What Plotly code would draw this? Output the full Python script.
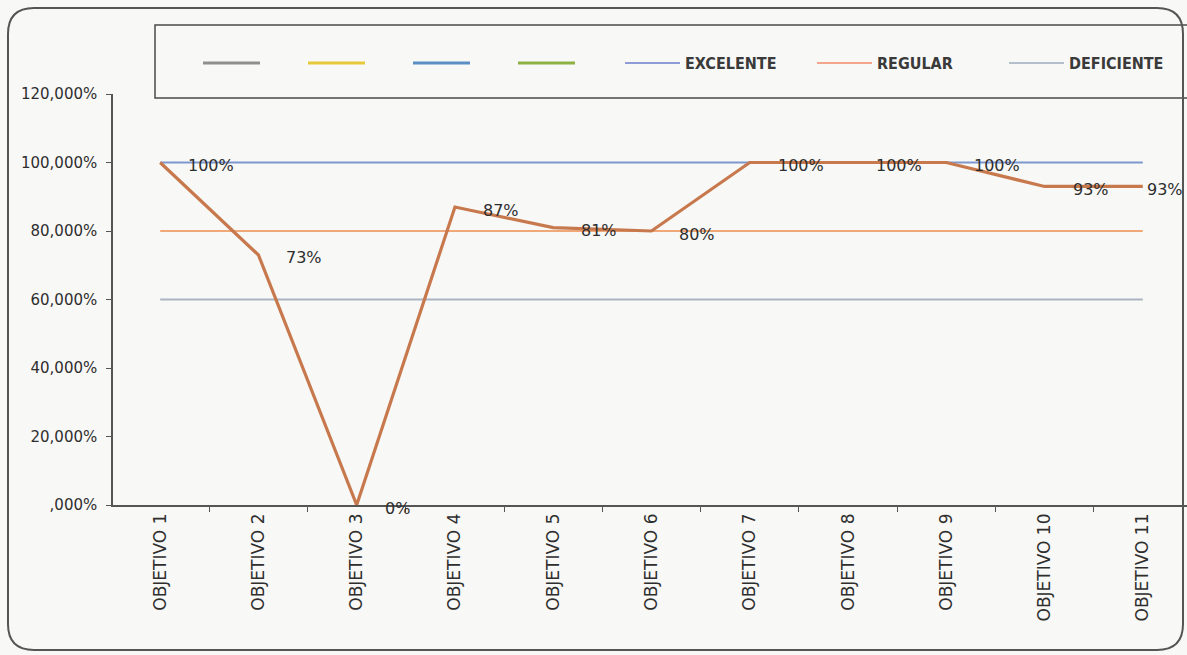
import plotly.graph_objects as go

# ---- data ----
objetivos = ["OBJETIVO 1", "OBJETIVO 2", "OBJETIVO 3", "OBJETIVO 4", "OBJETIVO 5",
             "OBJETIVO 6", "OBJETIVO 7", "OBJETIVO 8", "OBJETIVO 9", "OBJETIVO 10",
             "OBJETIVO 11"]
cumplimiento = [1.00, 0.73, 0.00, 0.87, 0.81, 0.80, 1.00, 1.00, 1.00, 0.93, 0.93]
nivel_excelente = 1.00
nivel_regular = 0.80
nivel_deficiente = 0.60
y_ticks = [0.0, 0.2, 0.4, 0.6, 0.8, 1.0, 1.2]
y_ticktext = [",000%", "20,000%", "40,000%", "60,000%", "80,000%", "100,000%", "120,000%"]

# ---- page geometry ----
W, H = 1187, 655
ML, MR, MT, MB = 113, 0, 94, 150


def to_paper(px, py):
    """Convert page pixel coordinates to paper coordinates."""
    return (px - ML) / (W - ML - MR), (H - MB - py) / (H - MT - MB)


FONT = "DejaVu Sans"
TXT = "#2e2e2e"
LEG_FONT = "DejaVu Sans Condensed, Liberation Sans Narrow, Arial Narrow, Liberation Sans, sans-serif"

fig = go.Figure()

# threshold lines
umbrales = [
    ("EXCELENTE", nivel_excelente, "#7f97cf", "#8e9bd6"),
    ("REGULAR", nivel_regular, "#f0a878", "#f2a58a"),
    ("DEFICIENTE", nivel_deficiente, "#aab4c2", "#b4bfcc"),
]
for nombre, valor, color, _ in umbrales:
    fig.add_trace(go.Scatter(
        x=objetivos, y=[valor] * len(objetivos), mode="lines",
        line=dict(color=color, width=2), showlegend=False, hoverinfo="skip"))

# achievement line
fig.add_trace(go.Scatter(
    x=objetivos, y=cumplimiento, mode="lines",
    line=dict(color="#c7794d", width=3.2), showlegend=False))

# legend: unnamed series
for color in ["#8f8f8f", "#e6c93a", "#5b8ec4", "#8db243"]:
    fig.add_trace(go.Scatter(
        x=[None], y=[None], mode="lines", name=" ",
        line=dict(color=color, width=3), legend="legend"))

# legend: threshold levels
for nombre, valor, _, color_leg in umbrales:
    fig.add_trace(go.Scatter(
        x=[None], y=[None], mode="lines", name=nombre,
        line=dict(color=color_leg, width=2), legend="legend2"))

# value labels to the right of each point
annotations = []
for i, (cat, v) in enumerate(zip(objetivos, cumplimiento)):
    last = i == len(objetivos) - 1
    annotations.append(dict(
        x=cat, y=v, xref="x", yref="y", text=f"{round(v * 100)}%",
        showarrow=False, xanchor="left", yanchor="middle",
        xshift=2 if last else 26, yshift=-3,
        font=dict(family=FONT, size=16, color=TXT)))

# legend frame and outer rounded frame
lx0, ly0 = to_paper(155, 25)
lx1, ly1 = to_paper(1200, 98)
shapes = [dict(type="rect", xref="paper", yref="paper", x0=lx0, y0=ly1, x1=lx1, y1=ly0,
               line=dict(color="#4a4a4a", width=1.5), layer="below")]

L, T, R, B, r = 8, 8, 1183, 650, 26
pts = [("M", L + r, T), ("L", R - r, T), ("Q", R, T, R, T + r), ("L", R, B - r),
       ("Q", R, B, R - r, B), ("L", L + r, B), ("Q", L, B, L, B - r), ("L", L, T + r),
       ("Q", L, T, L + r, T)]
path = ""
for p in pts:
    cmd, coords = p[0], p[1:]
    seg = []
    for j in range(0, len(coords), 2):
        px, py = to_paper(coords[j], coords[j + 1])
        seg.append(f"{px:.5f},{py:.5f}")
    path += cmd + " ".join(seg) + " "
path += "Z"
shapes.append(dict(type="path", xref="paper", yref="paper", path=path,
                   line=dict(color="#555555", width=2), layer="below"))

gx, gy = to_paper(198, 63)
g2x, _ = to_paper(620, 63)

fig.update_layout(
    width=W, height=H,
    margin=dict(l=ML, r=MR, t=MT, b=MB, autoexpand=False),
    paper_bgcolor="#f8f8f6", plot_bgcolor="#f8f8f6",
    font=dict(family=FONT, color=TXT),
    showlegend=True,
    legend=dict(orientation="h", x=gx, y=gy, xanchor="left", yanchor="middle",
                entrywidth=33, entrywidthmode="pixels", itemwidth=57,
                bgcolor="rgba(0,0,0,0)", font=dict(family=LEG_FONT, size=16, color="#3a3a3a")),
    legend2=dict(orientation="h", x=g2x, y=gy, xanchor="left", yanchor="middle",
                 entrywidth=122, entrywidthmode="pixels", itemwidth=55,
                 bgcolor="rgba(0,0,0,0)",
                 font=dict(family=LEG_FONT, size=16, color="#3a3a3a", weight="bold")),
    xaxis=dict(type="category", range=[-0.48, 10.45], showgrid=False, zeroline=False,
               showline=True, linecolor="#555555", linewidth=1.5, automargin=False,
               ticks="outside", tickson="boundaries", ticklen=5, tickcolor="#555555",
               tickangle=-90, tickfont=dict(family=FONT, size=17, color=TXT)),
    yaxis=dict(range=[0, 1.2], tickvals=y_ticks, ticktext=y_ticktext, showgrid=False,
               zeroline=False, showline=True, linecolor="#555555", linewidth=1.5,
               automargin=False,
               ticks="outside", ticklen=5, tickcolor="#555555", ticklabelstandoff=6,
               tickfont=dict(family=FONT, size=15, color=TXT)),
    annotations=annotations,
    shapes=shapes,
)

fig.write_html("out.html")
